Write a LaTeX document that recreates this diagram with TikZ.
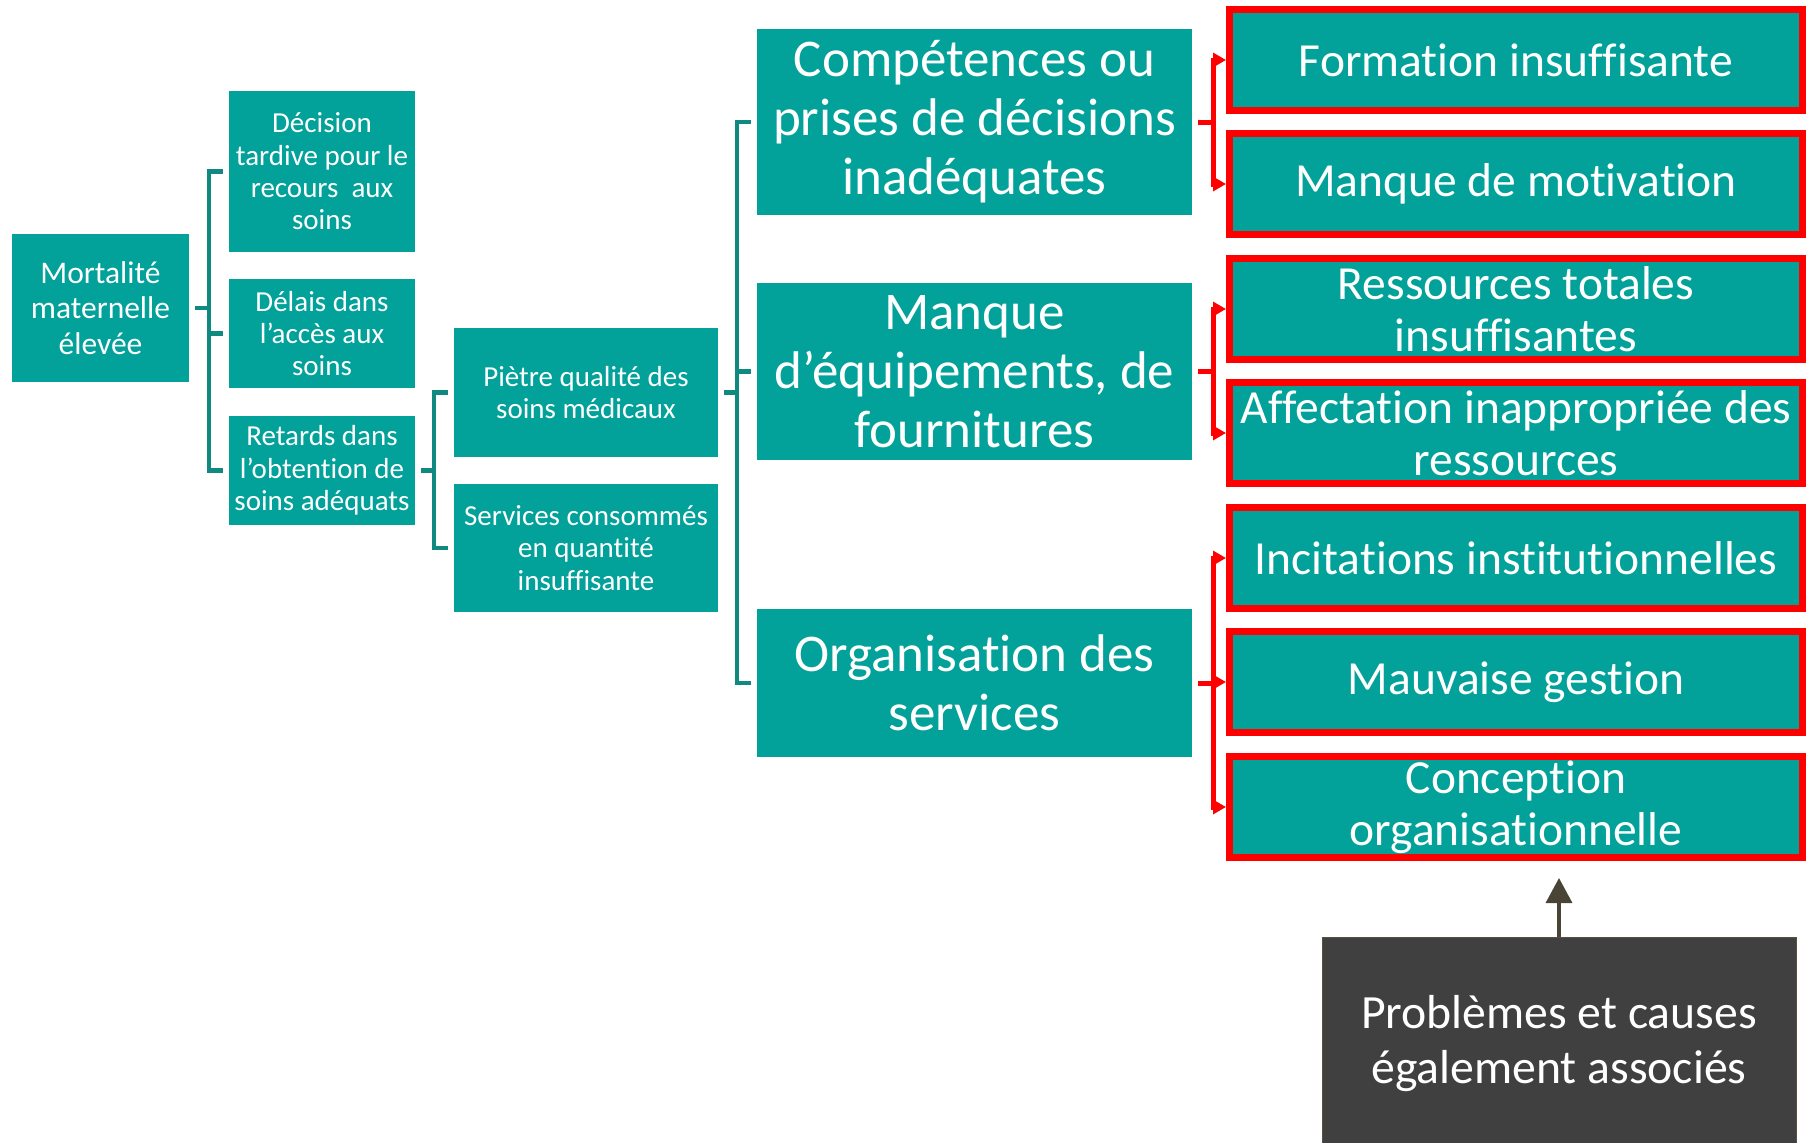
\documentclass[tikz,border=0pt]{standalone}
\usepackage{fontspec}
\setmainfont{Carlito}[Ligatures=NoCommon]
\usetikzlibrary{arrows.meta}

\definecolor{boxteal}{RGB}{2,161,154}
\definecolor{lineteal}{RGB}{16,137,128}
\definecolor{causered}{RGB}{255,0,0}
\definecolor{notegray}{RGB}{64,64,64}
\definecolor{noteedge}{RGB}{90,80,62}
\definecolor{pointer}{RGB}{74,68,54}

\begin{document}
\begin{tikzpicture}[x=1pt, y=-1pt,
  tealbox/.style={fill=boxteal, text=white, inner sep=0pt, outer sep=6pt, align=center},
  smalltxt/.style={font=\fontsize{29}{32.4}\selectfont},
  rootbox/.style={tealbox, font=\fontsize{31.5}{35.3}\selectfont},
  bigbox/.style={tealbox, minimum width=435pt, font=\fontsize{53}{59}\selectfont},
  causebox/.style={fill=boxteal, draw=causered, line width=7pt, text=white, inner sep=0pt,
    minimum width=573pt, minimum height=101pt, align=center,
    font=\fontsize{47.5}{52.5}\selectfont},
  notebox/.style={fill=notegray, draw=noteedge, line width=1pt, text=white, inner sep=0pt,
    minimum width=474pt, minimum height=213pt, align=center,
    font=\fontsize{47.7}{55.5}\selectfont},
  tealline/.style={draw=lineteal, line width=4.5pt, line join=miter},
  redline/.style={draw=causered, line width=5pt, line join=miter},
  redarrow/.style={redline, -{Triangle[length=13pt, width=14pt]}},
  pointerarrow/.style={draw=pointer, line width=3.5pt, -{Triangle[length=25pt, width=26pt]}}
]
\useasboundingbox (0,0) rectangle (1813,1143);
\clip (0,0) rectangle (1813,1143);

% root problem
\node[rootbox, minimum width=177pt, minimum height=148pt] (mort) at (100.5,308)
  {Mortalité\\maternelle\\élevée};

% the three delays
\node[tealbox, smalltxt, minimum width=186pt, minimum height=161pt] (dec) at (322,171.5)
  {Décision\\tardive pour le\\recours\ \ aux\\soins};
\node[tealbox, smalltxt, minimum width=186pt, minimum height=109pt] (del) at (322,333.5)
  {Délais dans\\l’accès aux\\soins};
\node[tealbox, smalltxt, minimum width=186pt, minimum height=109pt] (ret) at (322,470.5)
  {Retards dans\\l’obtention de\\soins adéquats};

% care quality
\node[tealbox, smalltxt, minimum width=264pt, minimum height=129pt] (pie) at (586,392.5)
  {Piètre qualité des\\soins médicaux};
\node[tealbox, smalltxt, minimum width=264pt, minimum height=128pt] (ser) at (586,548)
  {Services consommés\\en quantité\\insuffisante};

% main causes
\node[bigbox, minimum height=186pt] (comp) at (974.5,122)
  {Compétences ou\\prises de décisions\\inadéquates};
\node[bigbox, minimum height=177pt] (equip) at (974.5,371.5)
  {Manque\\d’équipements, de\\fournitures};
\node[bigbox, minimum height=148pt] (org) at (974.5,683)
  {Organisation des\\services};

% underlying causes
\node[causebox] (form)  at (1516,60)  {Formation insuffisante};
\node[causebox] (motiv) at (1516,184) {Manque de motivation};
\node[causebox] (res)   at (1516,309) {Ressources totales\\insuffisantes};
\node[causebox] (aff)   at (1516,433) {Affectation inappropriée des\\ressources};
\node[causebox] (inc)   at (1516,558) {Incitations institutionnelles};
\node[causebox] (mauv)  at (1516,682) {Mauvaise gestion};
\node[causebox] (conc)  at (1516,807) {Conception\\organisationnelle};

% note
\node[notebox] (note) at (1559,1043.5) {Problèmes et causes\\également associés};

% teal brackets
\coordinate (b1) at ([xshift=14pt]mort.east);
\draw[tealline] (mort.east) -- (b1);
\draw[tealline] (dec.west) -| (b1) |- (ret.west);
\draw[tealline] (b1 |- del.west) -- (del.west);

\coordinate (b2) at ([xshift=13pt]ret.east);
\draw[tealline] (ret.east) -- (b2);
\draw[tealline] (pie.west) -| (b2) |- (ser.west);

\coordinate (b3) at ([xshift=13pt]pie.east);
\draw[tealline] (pie.east) -- (b3);
\draw[tealline] (comp.west) -| (b3) |- (org.west);
\draw[tealline] (b3 |- equip.west) -- (equip.west);

% red brackets with arrows
\coordinate (r1) at ([xshift=15pt]comp.east);
\draw[redline] (comp.east) -- (r1);
\draw[redarrow] (r1) |- (form.west);
\draw[redarrow] (r1) |- (motiv.west);

\coordinate (r2) at ([xshift=15pt]equip.east);
\draw[redline] (equip.east) -- (r2);
\draw[redarrow] (r2) |- (res.west);
\draw[redarrow] (r2) |- (aff.west);

\coordinate (r3) at ([xshift=15pt]org.east);
\draw[redline] (org.east) -- (r3);
\draw[redarrow] (r3) |- (inc.west);
\draw[redarrow] (r3) |- (mauv.west);
\draw[redarrow] (r3) |- (conc.west);

% pointer from the note
\draw[pointerarrow, shorten >=17pt] (note.north) -- (note.north |- conc.south);
\end{tikzpicture}
\end{document}
